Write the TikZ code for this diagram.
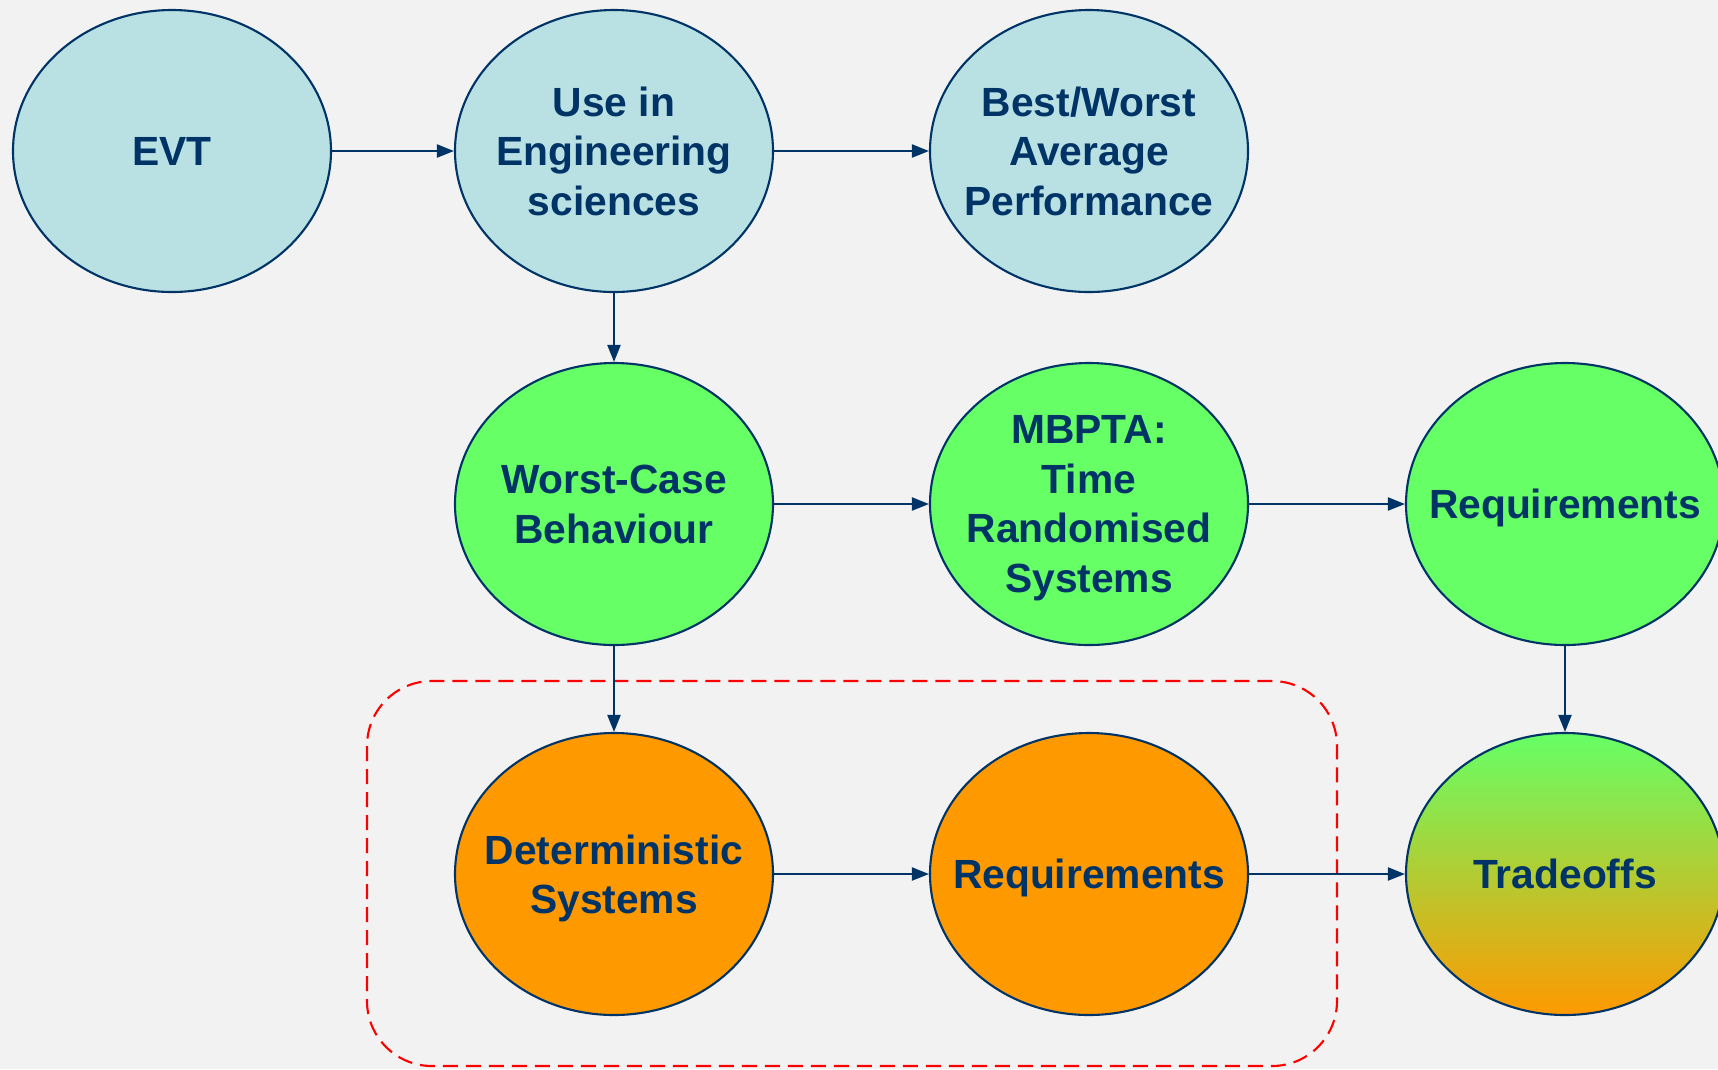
\documentclass[tikz,border=0pt]{standalone}
\usepackage{fontspec}
\setmainfont{Liberation Sans}
\usetikzlibrary{positioning,shapes.geometric,arrows.meta}
\definecolor{edgecolor}{RGB}{0,51,102}
\definecolor{evtcolor}{RGB}{185,224,227}
\definecolor{wcetcolor}{RGB}{102,255,102}
\definecolor{detcolor}{RGB}{255,153,0}
\definecolor{framecolor}{RGB}{255,0,0}
\definecolor{pagecolor}{RGB}{242,242,242}

\begin{document}
\begin{tikzpicture}[>=Stealth, x=0.1mm, y=-0.1mm]
  % Node styles
  \tikzset{
    bubble/.style={ellipse, draw=edgecolor, line width=0.6pt, minimum width=31.8mm, minimum height=28.2mm, inner xsep=-3mm, inner ysep=0pt, text depth=0pt, align=center, text=edgecolor, font=\fontsize{11.6}{14.1}\selectfont\bfseries},
    theory/.style={bubble, fill=evtcolor},
    wcet/.style={bubble, fill=wcetcolor},
    det/.style={bubble, fill=detcolor},
    mixed/.style={bubble, top color=wcetcolor, bottom color=detcolor},
    flow/.style={-{Triangle[length=1.7mm,width=1.3mm]}, line width=0.6pt, color=edgecolor},
    group/.style={draw=framecolor, line width=0.6pt, dash pattern=on 1.5mm off 0.8mm, rounded corners=6.5mm}
  }

  % Page
  \fill[pagecolor] (0,0) rectangle (1718,1069);
  \useasboundingbox (0,0) rectangle (1718,1069);
  \clip (0,0) rectangle (1718,1069);

  % Nodes
  \node[theory] (evt) at (172,151) {EVT};
  \node[theory] (use) at (614,151) {Use in\\Engineering\\sciences};
  \node[theory] (perf) at (1089,151) {Best/Worst\\Average\\Performance};
  \node[wcet] (wcb) at (614,504) {Worst-Case\\Behaviour};
  \node[wcet] (mbpta) at (1089,504) {MBPTA:\\Time\\Randomised\\Systems};
  \node[wcet] (reqrand) at (1565,504) {Requirements};
  \node[det] (det) at (614,874) {Deterministic\\Systems};
  \node[det] (reqdet) at (1089,874) {Requirements};
  \node[mixed] (trade) at (1565,874) {Tradeoffs};

  % Frame round the deterministic path
  \draw[group] (367,681) rectangle (1337,1066);

  % Edges
  \draw[flow] (evt) -- (use);
  \draw[flow] (use) -- (perf);
  \draw[flow] (use) -- (wcb);
  \draw[flow] (wcb) -- (mbpta);
  \draw[flow] (mbpta) -- (reqrand);
  \draw[flow] (wcb) -- (det);
  \draw[flow] (det) -- (reqdet);
  \draw[flow] (reqdet) -- (trade);
  \draw[flow] (reqrand) -- (trade);
\end{tikzpicture}
\end{document}
